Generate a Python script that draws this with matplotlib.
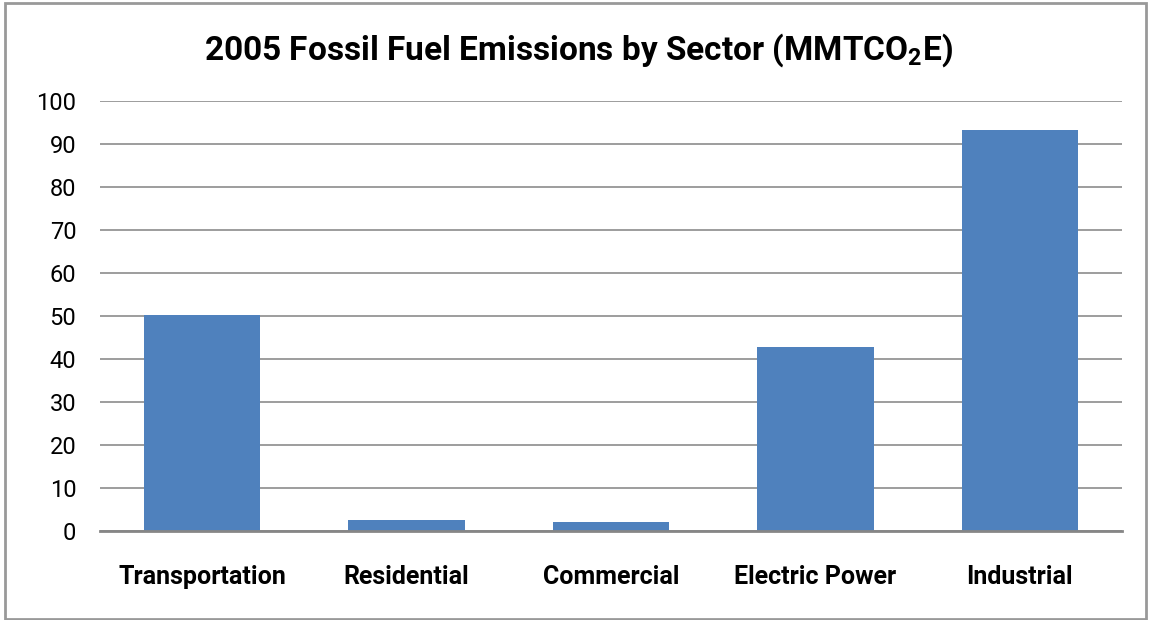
import matplotlib
matplotlib.use("Agg")
import matplotlib.pyplot as plt
from matplotlib.patches import Rectangle

categories = ["Transportation", "Residential", "Commercial", "Electric Power", "Industrial"]
values = [50.2, 2.5, 2.0, 42.8, 93.3]
yticks = [0, 10, 20, 30, 40, 50, 60, 70, 80, 90, 100]
title_main = "2005 Fossil Fuel Emissions by Sector (MMTCO"
title_sub = "2"
title_end = "E)"

plt.rcParams['font.family'] = ['Roboto', 'DejaVu Sans']
plt.rcParams['mathtext.fontset'] = 'custom'
plt.rcParams['mathtext.rm'] = 'Roboto:bold'
plt.rcParams['mathtext.bf'] = 'Roboto:bold'
plt.rcParams['mathtext.it'] = 'Roboto:bold'

W, H = 1149, 620
fig = plt.figure(figsize=(W / 100, H / 100), dpi=100)
ax = fig.add_axes([100 / W, 1 - 530.7 / H, (1122 - 100) / W, (530.7 - 101) / H])

x = range(len(categories))
ax.bar(x, values, width=0.57, color="#4F81BD", zorder=3)
ax.set_xlim(-0.5, len(categories) - 0.5)
ax.set_ylim(0, 100)
ax.set_yticks(yticks)
ax.set_yticklabels([str(t) for t in yticks], fontsize=17)
ax.set_xticks(list(x))
ax.set_xticklabels(categories, fontsize=18, fontweight="bold")
ax.tick_params(axis="y", length=0, pad=17)
ax.tick_params(axis="x", length=0, pad=25)
ax.grid(axis="y", color="#8c8c8c", linewidth=1.2, zorder=0)
for s in ["top", "right", "left"]:
    ax.spines[s].set_visible(False)
ax.spines["bottom"].set_color("#868686")
ax.spines["bottom"].set_linewidth(2)
ax.spines["bottom"].set_zorder(4)

fig.text(0.5 * (207 + 950) / W, 1 - 50 / H,
         title_main + r"$_{\mathbf{" + title_sub + r"}}$" + title_end,
         ha="center", va="center", fontsize=24, fontweight="bold")

fig.patches.append(Rectangle((5 / W, 1 / H), (1146 - 5) / W, (617 - 1) / H,
                             transform=fig.transFigure, fill=False,
                             edgecolor="#999999", linewidth=2))

fig.savefig("out.png", dpi=100)
